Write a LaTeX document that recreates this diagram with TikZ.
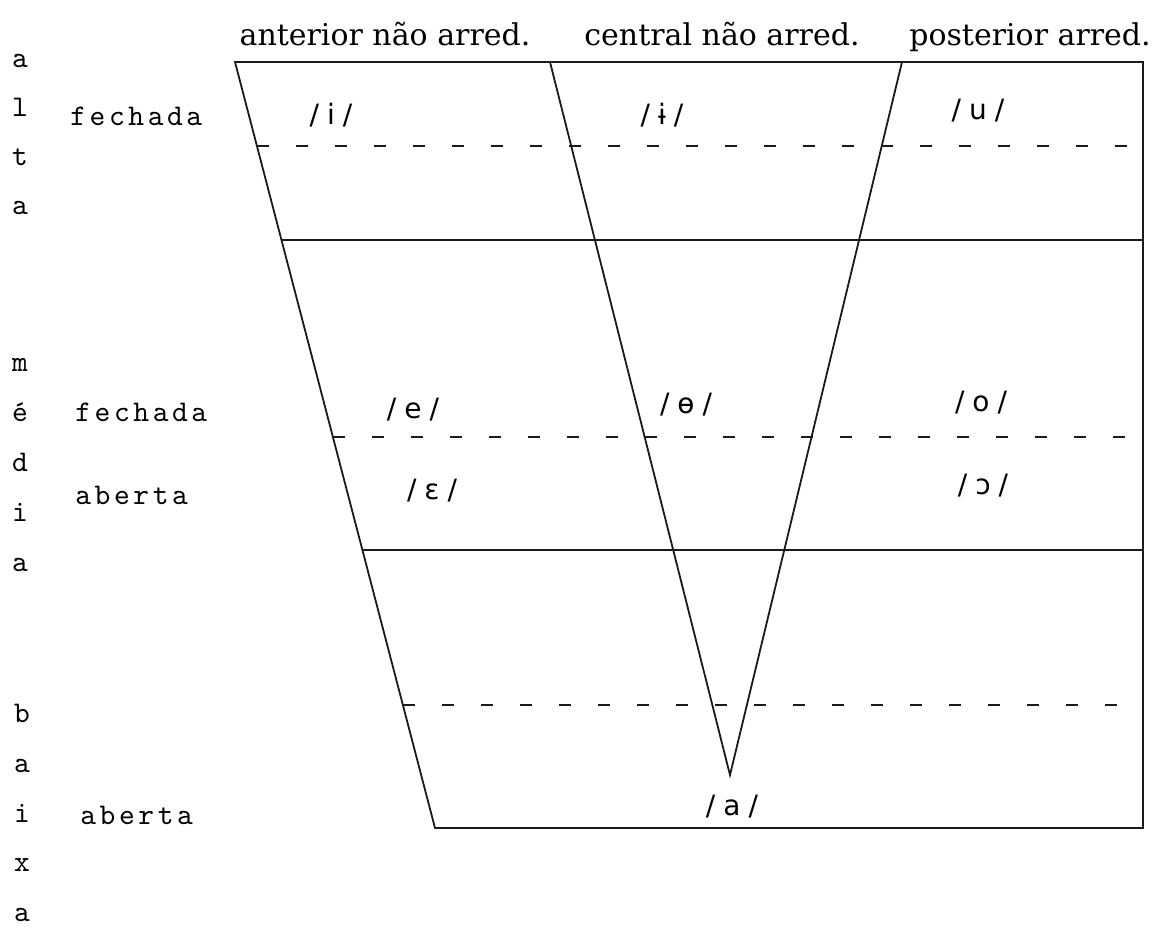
\documentclass[tikz,border=0pt]{standalone}
\usepackage{fontspec}
\setmainfont{DejaVu Serif}
\newfontfamily\ipafont{DejaVu Sans}
\newfontfamily\typew[Extension=.otf,LetterSpace=12]{lmmono10-regular}
\usetikzlibrary{calc}
\definecolor{inkgray}{HTML}{1a1a1a}

\begin{document}
\begin{tikzpicture}[x=0.5pt,y=-0.5pt,
  edge/.style={inkgray,line width=0.9pt},
  guide/.style={inkgray,line width=0.7pt,dash pattern=on 6pt off 13.5pt},
  colhead/.style={font=\fontsize{15}{18}\selectfont,inner sep=0pt,anchor=base},
  letter/.style={font=\typew\fontsize{15}{17}\selectfont,inner sep=0pt,anchor=base},
  height/.style={font=\typew\fontsize{15}{17}\selectfont,inner sep=0pt,anchor=base west},
  vowel/.style={font=\ipafont\fontsize{14}{16}\selectfont,inner sep=0pt,anchor=base}]
  \useasboundingbox (0,0) rectangle (1174,930);

  % frame and the V of the central vowels
  \coordinate (tl) at (235,62);
  \coordinate (tr) at (1143,62);
  \coordinate (br) at (1143,828);
  \coordinate (bl) at (435,828);
  \coordinate (vl) at (550,62);
  \coordinate (vr) at (902,62);
  \coordinate (vtip) at (730,775);
  \draw[edge] (tl) -- (tr) -- (br) -- (bl) -- cycle;
  \draw[edge] (vl) -- (vtip) -- (vr);

  % horizontal divisions
  \foreach \name/\yy in {hia/146, hib/240, mida/437, midb/550, loa/705}{
    \coordinate (\name-l) at ($(tl)!{(\yy-62)/766}!(bl)$);
    \coordinate (\name-r) at (tr |- \name-l);
  }
  \draw[edge] (hib-l) -- (hib-r);
  \draw[edge] (midb-l) -- (midb-r);
  \draw[guide] (hia-l) -- (hia-r);
  \draw[guide] (mida-l) -- (mida-r);
  \draw[guide] (loa-l) -- (loa-r);

  % column heads
  \node[colhead] (ant) at (385,46) {anterior não arred.};
  \node[colhead] (cen) at (722,46) {central não arred.};
  \node[colhead] (post) at (1030,46) {posterior arred.};

  % heights, spelt downwards
  \foreach \ch [count=\k] in {a,l,t,a}
    \node[letter] (alta\k) at (20,{68+49*(\k-1)}) {\ch};
  \foreach \ch [count=\k] in {m,é,d,i,a}
    \node[letter] (media\k) at (20,{372+50*(\k-1)}) {\ch};
  \foreach \ch [count=\k] in {b,a,i,x,a}
    \node[letter] (baixa\k) at (22,{723+49.5*(\k-1)}) {\ch};

  \node[height] (fechA) at (70,126) {fechada};
  \node[height] (fechB) at (75,422) {fechada};
  \node[height] (abeA) at (75,505) {aberta};
  \node[height] (abeB) at (80,825) {aberta};

  % vowels
  \node[vowel] (vi) at (331,125) {/\hspace{4pt}i\hspace{4pt}/};
  \node[vowel] (vib) at (662,125) {/\hspace{4pt}ɨ\hspace{4pt}/};
  \node[vowel] (vu) at (978,120) {/\hspace{4pt}u\hspace{4pt}/};
  \node[vowel] (ve) at (413,419) {/\hspace{4pt}e\hspace{4pt}/};
  \node[vowel] (vob) at (686,414) {/\hspace{4pt}ɵ\hspace{4pt}/};
  \node[vowel] (vo) at (981,412) {/\hspace{4pt}o\hspace{4pt}/};
  \node[vowel] (veo) at (432,500) {/\hspace{4pt}ɛ\hspace{4pt}/};
  \node[vowel] (voo) at (983,495) {/\hspace{4pt}ɔ\hspace{4pt}/};
  \node[vowel] (va) at (732,815) {/\hspace{4pt}a\hspace{4pt}/};
\end{tikzpicture}
\end{document}
